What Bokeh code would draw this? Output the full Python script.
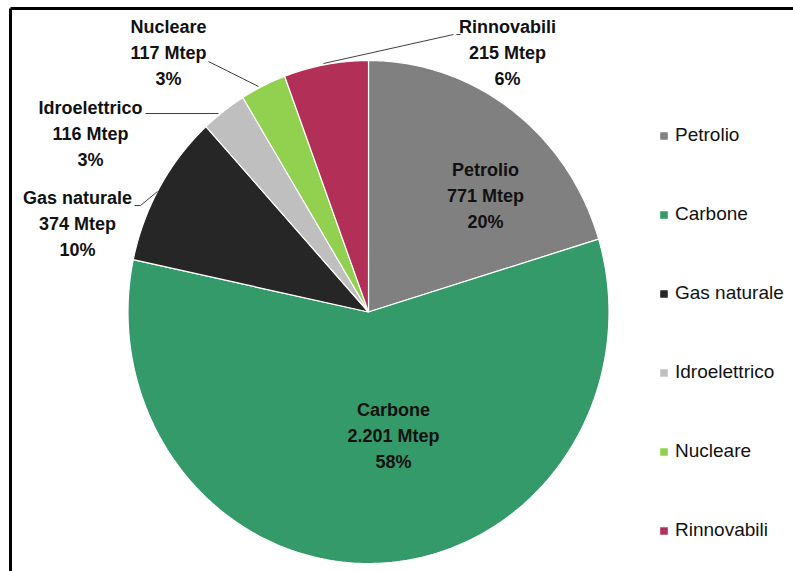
import numpy as np
from bokeh.plotting import figure
from bokeh.models import Range1d, Legend, LegendItem, ColumnDataSource
from bokeh.core.properties import value
from bokeh.embed import file_html
from bokeh.resources import INLINE

# ---- data ----
categories = ["Petrolio", "Carbone", "Gas naturale", "Idroelettrico", "Nucleare", "Rinnovabili"]
values_mtep = [771, 2201, 374, 116, 117, 215]
colors = ["#808080", "#349a69", "#262626", "#bfbfbf", "#92d050", "#b22f58"]

# ---- layout (pixel space, y downward) ----
W, H = 793, 571
CX, CY, RX, RY = 368.0, 311.5, 240.5, 251.5
label_x = [485, 393, 77, 90, 168, 507]
label_y = [195, 435, 223, 133, 52, 52]   # centre of the middle line
LINE_GAP = 26
FONT = "Liberation Sans"

total = sum(values_mtep)
fracs = [v / total for v in values_mtep]
pcts = [f"{round(f * 100):.0f}%" for f in fracs]
vals_txt = [f"{v:,}".replace(",", ".") + " Mtep" for v in values_mtep]

p = figure(width=W, height=H, output_backend="svg", toolbar_location=None,
           x_range=Range1d(0, W), y_range=Range1d(H, 0), min_border=0)
p.axis.visible = False
p.grid.visible = False
p.outline_line_color = None
p.background_fill_color = "white"

# wedges as polygons (ellipse-shaped pie), clockwise from 12 o'clock
xs, ys = [], []
start = 0.0
for f in fracs:
    end = start + f * 2 * np.pi
    t = np.linspace(start, end, max(4, int(f * 400)))
    px = np.concatenate([[CX], CX + RX * np.sin(t), [CX]])
    py = np.concatenate([[CY], CY - RY * np.cos(t), [CY]])
    xs.append(px.tolist())
    ys.append(py.tolist())
    start = end

src = ColumnDataSource(dict(xs=xs, ys=ys, color=colors, name=categories))
r = p.patches("xs", "ys", source=src, fill_color="color", line_color="white", line_width=1.2)

# leader lines
lead_x = [[208, 258], [145, 218], [134, 140, 157], [456, 460], [323, 453]]
lead_y = [[61, 86], [113, 113], [205, 205, 191], [34, 34], [63, 34]]
p.multi_line(lead_x, lead_y, line_color="#404040", line_width=1)

# labels
for dy, txts in [(-LINE_GAP, categories), (0, vals_txt), (LINE_GAP, pcts)]:
    p.text(x=label_x, y=[yy + dy for yy in label_y], text=txts,
           text_font=value(FONT), text_font_style="bold", text_font_size="18px",
           text_color="#111111", text_align="center", text_baseline="middle")

# frame lines
p.segment(x0=[10, 10], y0=[8, 8], x1=[W + 5, 10], y1=[8, H + 5], line_color="black", line_width=3)

# legend
items = [LegendItem(label=c, renderers=[r], index=i) for i, c in enumerate(categories)]
legend = Legend(items=items, location=(658, 29), orientation="vertical",
                glyph_width=11, glyph_height=11, label_standoff=6, spacing=55,
                label_height=24, padding=0, margin=0,
                border_line_color=None, background_fill_alpha=0,
                label_text_font=FONT, label_text_font_size="19px", label_text_color="#111111")
p.add_layout(legend, "center")

open("out.html", "w").write(file_html(p, INLINE))
